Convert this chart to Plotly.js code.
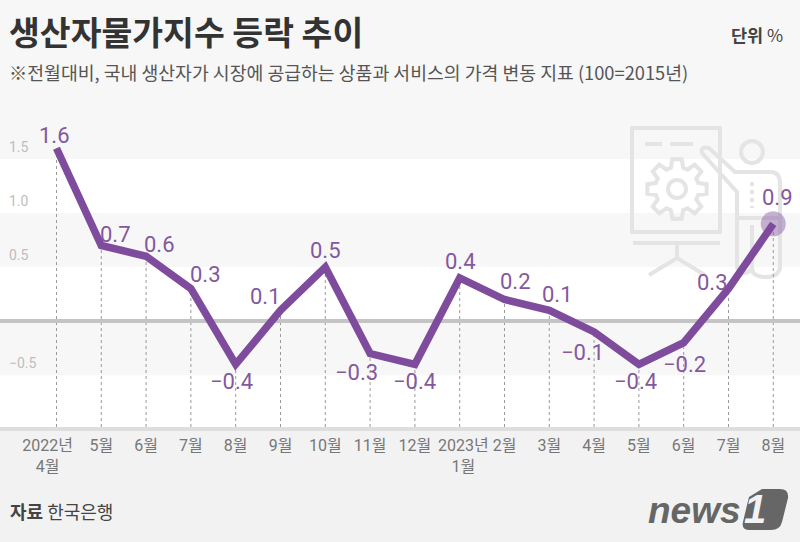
<!DOCTYPE html>
<html>
<head>
<meta charset="utf-8">
<script src="https://cdn.plot.ly/plotly-3.0.1.min.js"></script>
<style>html,body{margin:0;padding:0;background:#f7f7f7}#chart{width:800px;height:542px}</style>
</head>
<body>
<div id="chart"></div>
<script>
const month_labels = ['2022년<br>4월', '5월', '6월', '7월', '8월', '9월', '10월', '11월', '12월', '2023년<br>1월', '2월', '3월', '4월', '5월', '6월', '7월', '8월'];
const change_values = [1.6, 0.7, 0.6, 0.3, -0.4, 0.1, 0.5, -0.3, -0.4, 0.4, 0.2, 0.1, -0.1, -0.4, -0.2, 0.3, 0.9];
const y_tick_values = [-0.5, 0.5, 1.0, 1.5];
const y_tick_labels = ['−0.5', '0.5', '1.0', '1.5'];
const white_bands = [[1.0, 1.5], [0, 0.5], [-0.98, -0.5]];

// label offsets from each point, in pixels
const label_shift = [[-2, 13], [14, 11], [13, 12], [15, 14], [-4, -17], [-15, 14], [0, 17], [-14, -19], [0, -17], [1, 16], [11, 18], [8, 16], [-12, -21], [-3, -17], [1, -22], [-16, 6], [4, 26]];

const PURPLE = '#7f4c9d';
const NUM_FONT = 'Roboto, "Noto Sans CJK KR", sans-serif';
const KR = '"Noto Sans CJK KR", sans-serif';
const ICON = '#e4e4e4';
const PLOT_BOTTOM = 427;

const xs = month_labels.map((_, i) => i);
// the two year labels sit a little off their month in the original
const tick_positions = xs.map(x => x === 0 ? -0.2 : x === 9 ? 9.08 : x);
const fmt = v => (v < 0 ? '−' : '') + Math.abs(v).toFixed(1);

/* Begin helpers */
const px = x => x / 800;
const py = y => (PLOT_BOTTOM - y) / PLOT_BOTTOM;

// path given in page pixels -> paper coordinates
const page_path = (cmds) => cmds.map(([c, ...pts]) => {
  if (!pts.length) return c;
  const out = [];
  for (let i = 0; i < pts.length; i += 2) out.push(`${px(pts[i])},${py(pts[i + 1])}`);
  return c + out.join(' ');
}).join(' ');

const icon_path = (cmds, width = 4, dash = 'solid') => ({
  type: 'path', xref: 'paper', yref: 'paper', layer: 'below',
  path: page_path(cmds),
  line: {color: ICON, width, dash},
});

const icon_circle = (cx, cy, r) => ({
  type: 'circle', xref: 'paper', yref: 'paper', layer: 'below',
  x0: px(cx - r), x1: px(cx + r), y0: py(cy + r), y1: py(cy - r),
  line: {color: ICON, width: 4},
});

const gear_path = (cx, cy, ro, ri, teeth) => {
  const cmds = [];
  const step = Math.PI * 2 / teeth;
  for (let i = 0; i < teeth; i++) {
    const a = i * step - Math.PI / 2;
    const corners = [[ri, a - step * 0.36], [ro, a - step * 0.2], [ro, a + step * 0.2], [ri, a + step * 0.36]];
    for (const [r, t] of corners) {
      cmds.push([cmds.length ? 'L' : 'M', cx + r * Math.cos(t), cy + r * Math.sin(t)]);
    }
  }
  cmds.push(['Z']);
  return cmds;
};
/* End helpers */

// background bands
const band_shapes = white_bands.map(([y0, y1]) => ({
  type: 'rect', xref: 'paper', yref: 'y', layer: 'below',
  x0: 0, x1: 1, y0, y1, fillcolor: '#ffffff', line: {width: 0},
}));

const footer_shape = {
  type: 'rect', xref: 'paper', yref: 'paper', layer: 'below',
  x0: 0, x1: 1, y0: py(542), y1: py(428), fillcolor: '#f2f2f2', line: {width: 0},
};

// presenter icon behind the last points
const icon_shapes = [
  icon_path([['M', 632, 128], ['L', 720, 128], ['L', 720, 232], ['L', 632, 232], ['Z']]),
  icon_path([['M', 645, 144], ['L', 662, 144]]),
  icon_path([['M', 670, 144], ['L', 693, 144]]),
  icon_path(gear_path(677, 189, 30, 22, 8)),
  icon_circle(677, 189, 9),
  icon_path([['M', 633, 243], ['L', 720, 243]]),
  icon_path([['M', 677, 243], ['L', 677, 258]]),
  icon_path([['M', 649, 275], ['L', 677, 258], ['L', 705, 275]]),
  icon_circle(752, 152, 11),
  // arm and body outline
  icon_path([['M', 702, 153], ['Q', 700, 146, 709, 148], ['L', 735, 172], ['L', 771, 172], ['Q', 780, 172, 780, 184], ['L', 780, 268], ['Q', 778, 277, 766, 277], ['Q', 752, 277, 752, 268], ['L', 752, 225]]),
  icon_path([['M', 702, 153], ['L', 737, 192], ['L', 737, 268], ['Q', 745, 278, 752, 268]]),
  icon_path([['M', 752, 182], ['L', 752, 208]], 4, 'dot'),
  icon_path([['M', 737, 218], ['L', 780, 218]]),
];

// dotted drop lines from each point to the axis
const drop_shapes = xs.map((x, i) => ({
  type: 'line', xref: 'x', yref: 'y', layer: 'below',
  x0: x, x1: x, y0: -0.98, y1: change_values[i],
  line: {color: '#9a9a9a', width: 1, dash: 'dot'},
}));

// news1 logo box
const logo_shape = {
  type: 'path', xref: 'paper', yref: 'paper', layer: 'below',
  path: page_path([['M', 762, 489], ['L', 780, 489], ['Q', 789, 489, 788, 498], ['L', 782, 522], ['Q', 780, 530, 771, 530], ['L', 750, 530], ['Q', 741, 530, 743, 522], ['L', 747, 505], ['L', 749, 497], ['Z']]),
  fillcolor: '#666666', line: {width: 0},
};

const value_labels = change_values.map((v, i) => ({
  x: i, y: v, xref: 'x', yref: 'y',
  text: fmt(v), showarrow: false,
  xshift: label_shift[i][0], yshift: label_shift[i][1],
  font: {family: NUM_FONT, size: 22, color: '#84579f'},
}));

const text_note = (x, y, text, size, color, anchor = 'left') => ({
  x: px(x), y: py(y), xref: 'paper', yref: 'paper',
  xanchor: anchor, yanchor: 'middle', showarrow: false,
  text, font: {family: KR, size, color},
});

const notes = [
  text_note(7, 31, '<b>생산자물가지수 등락 추이</b>', 33.5, '#333333'),
  text_note(7, 72, '※전월대비, 국내 생산자가 시장에 공급하는 상품과 서비스의 가격 변동 지표 (100=2015년)', 18.3, '#555555'),
  text_note(785, 35, '<b>단위</b> %', 17.5, '#444444', 'right'),
  text_note(8, 511, '<b>자료</b> 한국은행', 18, '#444444'),
  {
    x: px(646), y: py(510), xref: 'paper', yref: 'paper', xanchor: 'left', yanchor: 'middle',
    showarrow: false, text: '<b><i>news</i></b>',
    font: {family: '"Liberation Sans", sans-serif', size: 37, color: '#666666'},
  },
  {
    x: px(755), y: py(509), xref: 'paper', yref: 'paper', xanchor: 'center', yanchor: 'middle',
    showarrow: false, text: '<b><i>1</i></b>',
    font: {family: '"Liberation Sans", sans-serif', size: 40, color: '#f2f2f2'},
  },
];

const line_trace = {
  x: xs, y: change_values, mode: 'lines', hoverinfo: 'skip',
  line: {color: PURPLE, width: 7.5},
};

const end_marker = {
  x: xs.slice(-1), y: change_values.slice(-1), mode: 'markers', hoverinfo: 'skip',
  marker: {color: 'rgba(127,76,157,0.42)', size: 25, line: {width: 0}},
};

const layout = {
  width: 800, height: 542,
  margin: {l: 0, r: 0, t: 0, b: 115},
  paper_bgcolor: '#f7f7f7', plot_bgcolor: '#f7f7f7',
  showlegend: false,
  xaxis: {
    range: [-1.261, 16.596], tickmode: 'array', tickvals: tick_positions, ticktext: month_labels,
    tickangle: 0,
    tickfont: {family: NUM_FONT, size: 16, color: '#777777'},
    ticks: '', showgrid: false, zeroline: false, fixedrange: true,
    showline: true, linecolor: '#dedede', linewidth: 4, ticklabelstandoff: 1,
  },
  yaxis: {
    range: [-0.98, 2.972], tickmode: 'array', tickvals: y_tick_values, ticktext: y_tick_labels,
    ticklabelposition: 'inside', ticklabelstandoff: 6, ticklabelshift: -12,
    tickfont: {family: NUM_FONT, size: 14, color: '#bdbdbd'},
    ticks: '', showgrid: false, fixedrange: true,
    zeroline: true, zerolinecolor: '#c4c4c4', zerolinewidth: 4,
  },
  shapes: [footer_shape, ...band_shapes, ...icon_shapes, ...drop_shapes, logo_shape],
  annotations: [...value_labels, ...notes],
};

Plotly.newPlot('chart', [line_trace, end_marker], layout, {displayModeBar: false, staticPlot: true});
</script>
</body>
</html>
